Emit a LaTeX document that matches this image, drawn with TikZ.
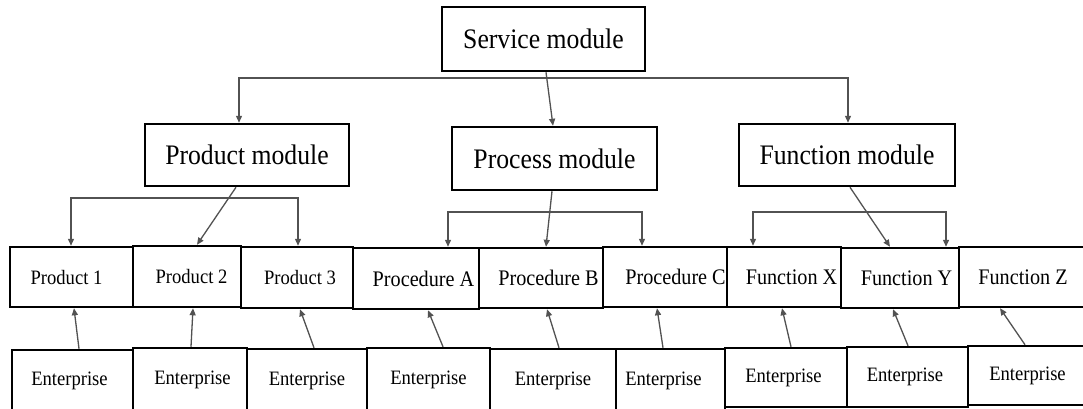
\documentclass[tikz,border=0pt]{standalone}
\usepackage{fontspec}
\setmainfont{Liberation Serif}
\usetikzlibrary{arrows.meta}
% #1 = twice the horizontal offset of the text from the box centre
\newcommand\tx[2]{\makebox[0pt][c]{\hspace*{#1}\scalebox{1}[1.1]{#2}}}
\begin{document}
\begin{tikzpicture}[x=1pt,y=-1pt,
  box/.style={draw=black, line width=2.5pt, fill=white, inner sep=0pt, align=center},
  big/.style={box, font=\fontsize{25.7}{30}\selectfont},
  small/.style={box, font=\fontsize{18.6}{22}\selectfont},
  mid/.style={box, font=\fontsize{20.2}{24}\selectfont},
  conn/.style={draw=black!68, line width=1.3pt},
  arr/.style={conn, -{Triangle[length=7pt,width=6pt]}},
  darr/.style={conn, {Triangle[length=7pt,width=6pt]}-{Triangle[length=7pt,width=6pt]}},
]
\useasboundingbox (0,0) rectangle (1083,408);
\clip (0,0) rectangle (1083,408);
\fill[white] (0,0) rectangle (1083,408);

% top level
\node[big, minimum width=203pt, minimum height=64pt] (S) at (543.5,39) {\tx{0pt}{Service module}};
% modules
\node[big, minimum width=204pt, minimum height=62pt] (PM) at (247,155) {\tx{0pt}{Product module}};
\node[big, minimum width=205pt, minimum height=63pt] (PrM) at (554.5,158.5) {\tx{0pt}{Process module}};
\node[big, minimum width=216pt, minimum height=62pt] (FM) at (847,155) {\tx{0pt}{Function module}};

% second row
\node[small, minimum width=123pt, minimum height=60pt] (P1) at (71.5,277) {\tx{-10pt}{Product 1}};
\node[small, minimum width=108pt, minimum height=61pt] (P2) at (187,276.5) {\tx{9pt}{Product 2}};
\node[small, minimum width=112pt, minimum height=61pt] (P3) at (297,277.5) {\tx{6pt}{Product 3}};
\node[mid, minimum width=126pt, minimum height=61pt] (PA) at (416,278.5) {\tx{15pt}{Procedure A}};
\node[mid, minimum width=124pt, minimum height=60pt] (PB) at (541,278) {\tx{15pt}{Procedure B}};
\node[mid, minimum width=124pt, minimum height=60pt] (PC) at (665,277) {\tx{21pt}{Procedure C}};
\node[mid, minimum width=114pt, minimum height=60pt] (FX) at (784,277) {\tx{15pt}{Function X}};
\node[mid, minimum width=118pt, minimum height=60pt] (FY) at (900,278) {\tx{13pt}{Function Y}};
\node[mid, minimum width=131pt, minimum height=60pt] (FZ) at (1024.5,277) {\tx{-3pt}{Function Z}};

% enterprises
\node[small, minimum width=121pt, minimum height=62pt] (E1) at (72.5,381) {\tx{-6pt}{Enterprise}};
\node[small, minimum width=114pt, minimum height=64pt] (E2) at (190,380) {\tx{5pt}{Enterprise}};
\node[small, minimum width=120pt, minimum height=63pt] (E3) at (307,380.5) {\tx{0pt}{Enterprise}};
\node[small, minimum width=123pt, minimum height=64pt] (E4) at (428.5,380) {\tx{0pt}{Enterprise}};
\node[small, minimum width=126pt, minimum height=63pt] (E5) at (553,380.5) {\tx{0pt}{Enterprise}};
\node[small, minimum width=109pt, minimum height=63pt] (E6) at (670.5,380.5) {\tx{-14pt}{Enterprise}};
\node[small, minimum width=122pt, minimum height=59pt] (E7) at (786,377.5) {\tx{-5pt}{Enterprise}};
\node[small, minimum width=121pt, minimum height=60pt] (E8) at (907.5,377) {\tx{-5pt}{Enterprise}};
\node[small, minimum width=122pt, minimum height=59pt] (E9) at (1029,375.5) {\tx{-3pt}{Enterprise}};

% service level connectors
\coordinate (sL) at (239,78);
\coordinate (sR) at (848,78);
\draw[darr] (sL |- PM.north) -- (sL) -- (sR) -- (sR |- FM.north);
\draw[arr] ([xshift=2.5pt]S.south) -- ([xshift=-1.5pt]PrM.north);

% product module connectors
\coordinate (pL) at (71,198);
\coordinate (pR) at (298,198);
\draw[darr] (pL |- P1.north) -- (pL) -- (pR) -- (pR |- P3.north);
\draw[arr] ([xshift=-11pt]PM.south) -- ([xshift=10pt]P2.north);

% process module connectors
\coordinate (qL) at (448,212);
\coordinate (qR) at (642,212);
\draw[darr] (qL |- PA.north) -- (qL) -- (qR) -- (qR |- PC.north);
\draw[arr] ([xshift=-2.5pt]PrM.south) -- ([xshift=5pt]PB.north);

% function module connectors
\coordinate (fL) at (753,212);
\coordinate (fR) at (946,212);
\draw[darr] (fL |- FX.north) -- (fL) -- (fR) -- (fR |- FY.north);
\draw[arr] ([xshift=3pt]FM.south) -- ([xshift=-10pt]FY.north);

% enterprise connectors
\draw[arr] ([xshift=6.5pt]E1.north) -- ([xshift=2.5pt]P1.south);
\draw[arr] ([xshift=1pt]E2.north) -- ([xshift=6pt]P2.south);
\draw[arr] ([xshift=7pt]E3.north) -- ([xshift=3pt]P3.south);
\draw[arr] ([xshift=14.5pt]E4.north) -- ([xshift=12pt]PA.south);
\draw[arr] ([xshift=6pt]E5.north) -- ([xshift=6pt]PB.south);
\draw[arr] ([xshift=-7.5pt]E6.north) -- ([xshift=-8pt]PC.south);
\draw[arr] ([xshift=5pt]E7.north) -- ([xshift=-2pt]FX.south);
\draw[arr] ([xshift=0.5pt]E8.north) -- ([xshift=-7pt]FY.south);
\draw[arr] ([xshift=-4pt]E9.north) -- ([xshift=-24.5pt]FZ.south);
\end{tikzpicture}
\end{document}
